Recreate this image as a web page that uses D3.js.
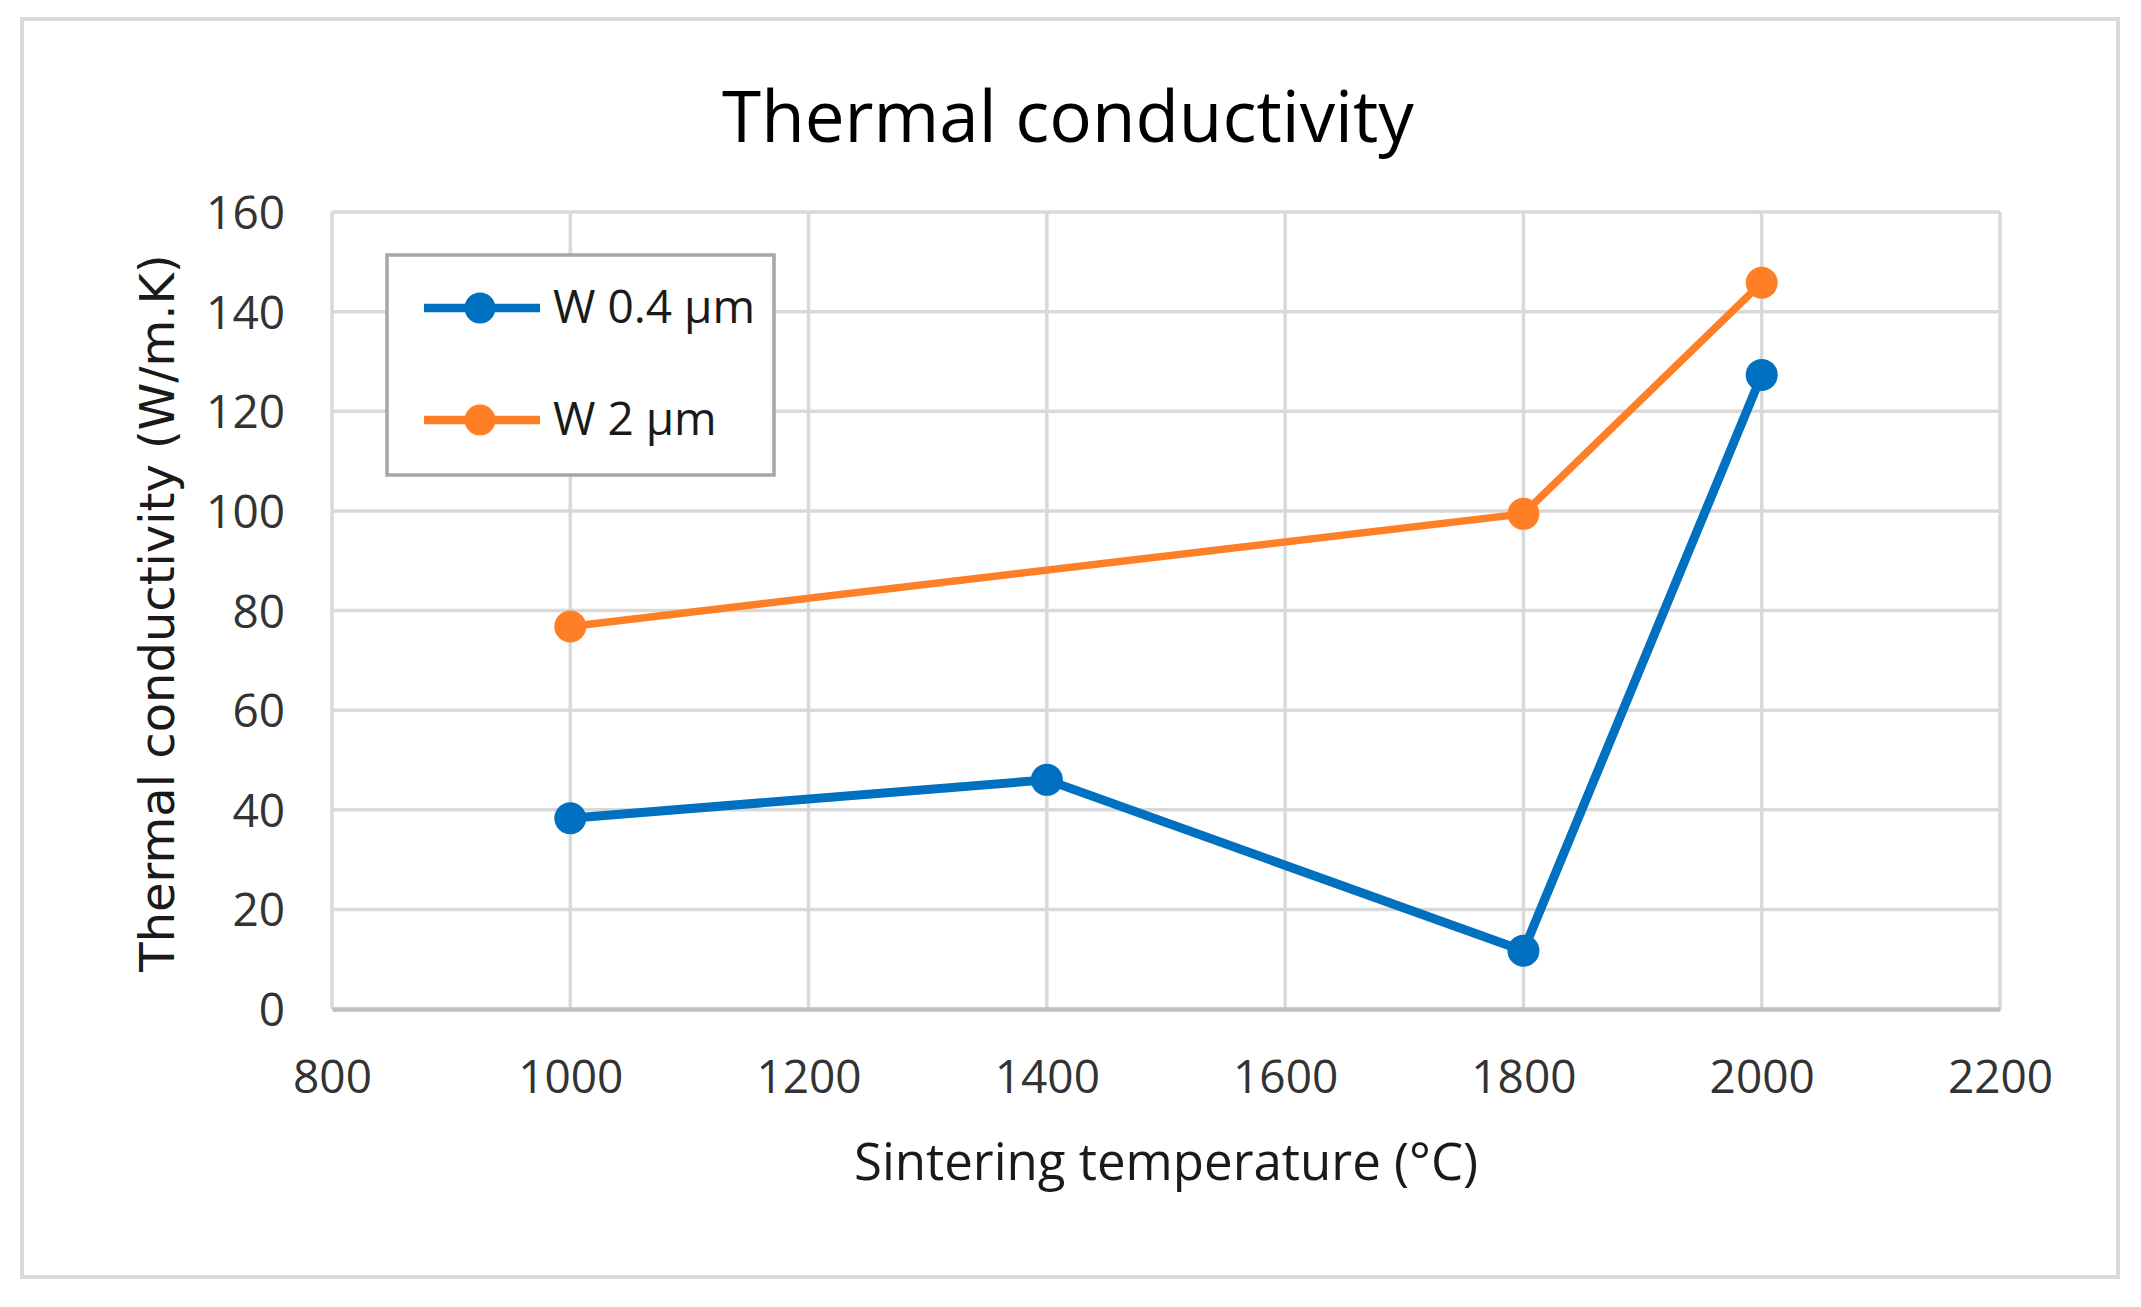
<!DOCTYPE html>
<html>
<head>
<meta charset="utf-8">
<script src="https://cdn.jsdelivr.net/npm/d3@7"></script>
<style>
  html, body { margin: 0; padding: 0; background: #fff; }
  svg { display: block; }
</style>
</head>
<body>
<script>
// ---- data ----
const chartTitle = "Thermal conductivity";
const xAxisTitle = "Sintering temperature (°C)";
const yAxisTitle = "Thermal conductivity (W/m.K)";
const xTicks = [800, 1000, 1200, 1400, 1600, 1800, 2000, 2200];
const yTicks = [0, 20, 40, 60, 80, 100, 120, 140, 160];
const seriesNames = ["W 0.4 µm", "W 2 µm"];
const seriesColors = ["#0070C0", "#FF7F27"];
const tempW04 = [1000, 1400, 1800, 2000];
const condW04 = [38.3, 46.0, 11.7, 127.3];
const tempW2 = [1000, 1800, 2000];
const condW2 = [76.8, 99.4, 145.8];

// ---- layout ----
const W = 2141, H = 1307;
const plot = { left: 332, right: 2000, top: 212, bottom: 1009 };

const svg = d3.select("body").append("svg")
  .attr("width", W).attr("height", H);

svg.append("rect").attr("width", W).attr("height", H).attr("fill", "#fff");

// outer border
svg.append("rect")
  .attr("x", 22).attr("y", 19).attr("width", 2096).attr("height", 1258)
  .attr("fill", "none").attr("stroke", "#d9d9d9").attr("stroke-width", 4);

const x = d3.scaleLinear().domain([800, 2200]).range([plot.left, plot.right]);
const y = d3.scaleLinear().domain([0, 160]).range([plot.bottom, plot.top]);

// gridlines
const grid = svg.append("g");
grid.selectAll(".hg").data(yTicks.filter(d => d !== 0)).enter().append("line")
  .attr("x1", plot.left).attr("x2", plot.right)
  .attr("y1", d => y(d)).attr("y2", d => y(d))
  .attr("stroke", "#d9d9d9").attr("stroke-width", 3.5);
grid.selectAll(".vg").data(xTicks).enter().append("line")
  .attr("x1", d => x(d)).attr("x2", d => x(d))
  .attr("y1", plot.top).attr("y2", plot.bottom)
  .attr("stroke", "#d9d9d9").attr("stroke-width", 3.5);

// x axis
const xAxis = svg.append("g")
  .attr("transform", `translate(0,${plot.bottom})`)
  .call(d3.axisBottom(x).tickValues(xTicks).tickSize(0).tickFormat(d3.format("d")));
xAxis.select(".domain").attr("stroke", "#bfbfbf").attr("stroke-width", 4.5);
xAxis.selectAll("text")
  .attr("y", 84).attr("dy", null)
  .attr("font-family", "'Open Sans', sans-serif").attr("font-size", 46)
  .attr("fill", "#333");

// y axis
const yAxis = svg.append("g")
  .attr("transform", `translate(${plot.left},0)`)
  .call(d3.axisLeft(y).tickValues(yTicks).tickSize(0).tickFormat(d3.format("d")));
yAxis.select(".domain").remove();
yAxis.selectAll("text")
  .attr("x", -47).attr("dy", "0.36em")
  .attr("font-family", "'Open Sans', sans-serif").attr("font-size", 46)
  .attr("fill", "#333");

// titles
svg.append("text")
  .attr("x", 1068).attr("y", 142)
  .attr("text-anchor", "middle")
  .attr("font-family", "'Open Sans', sans-serif").attr("font-size", 71)
  .attr("fill", "#000")
  .text(chartTitle);

svg.append("text")
  .attr("x", 1166).attr("y", 1180)
  .attr("text-anchor", "middle")
  .attr("font-family", "'Open Sans', sans-serif").attr("font-size", 51)
  .attr("fill", "#1a1a1a")
  .text(xAxisTitle);

svg.append("text")
  .attr("transform", "translate(174,613) rotate(-90)")
  .attr("text-anchor", "middle")
  .attr("font-family", "'DejaVu Sans', sans-serif").attr("font-size", 48)
  .attr("fill", "#1a1a1a")
  .text(yAxisTitle);

// series
const series = [
  { name: seriesNames[0], color: seriesColors[0], width: 9, pts: tempW04.map((t, i) => [t, condW04[i]]) },
  { name: seriesNames[1], color: seriesColors[1], width: 7.5, pts: tempW2.map((t, i) => [t, condW2[i]]) }
];
const line = d3.line().x(d => x(d[0])).y(d => y(d[1]));
series.forEach(s => {
  svg.append("path").datum(s.pts)
    .attr("d", line)
    .attr("fill", "none").attr("stroke", s.color)
    .attr("stroke-width", s.width).attr("stroke-linejoin", "round");
  svg.selectAll(null).data(s.pts).enter().append("circle")
    .attr("cx", d => x(d[0])).attr("cy", d => y(d[1])).attr("r", 16)
    .attr("fill", s.color);
});

// legend
const lg = svg.append("g");
lg.append("rect")
  .attr("x", 387).attr("y", 255).attr("width", 387).attr("height", 220)
  .attr("fill", "#fff").attr("stroke", "#a6a6a6").attr("stroke-width", 3.5);
const rowY = [308, 420];
series.forEach((s, i) => {
  lg.append("line")
    .attr("x1", 424).attr("x2", 540).attr("y1", rowY[i]).attr("y2", rowY[i])
    .attr("stroke", s.color).attr("stroke-width", 8.5);
  lg.append("circle").attr("cx", 480).attr("cy", rowY[i]).attr("r", 15.5).attr("fill", s.color);
  lg.append("text")
    .attr("x", 553).attr("y", rowY[i] + 15)
    .attr("font-family", "'Open Sans', sans-serif").attr("font-size", 46)
    .attr("fill", "#1a1a1a")
    .text(s.name);
});
</script>
</body>
</html>
